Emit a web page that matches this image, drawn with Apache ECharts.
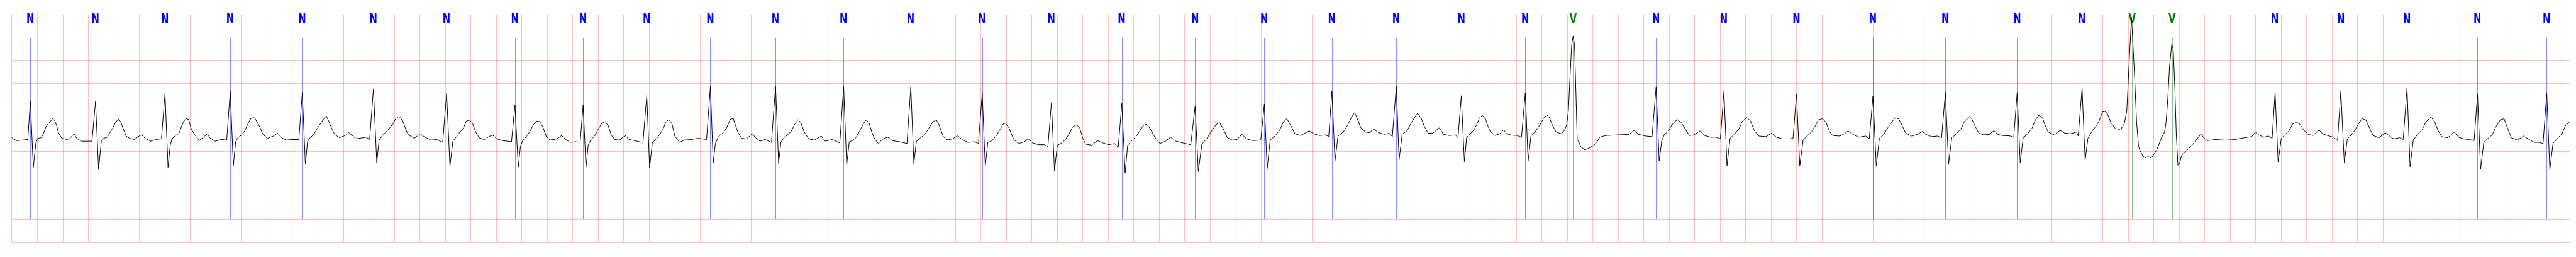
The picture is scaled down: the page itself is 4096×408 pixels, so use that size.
<!DOCTYPE html>
<html>
<head>
<meta charset="utf-8">
<script src="https://cdn.jsdelivr.net/npm/echarts@6/dist/echarts.min.js"></script>
<style>
html,body{margin:0;padding:0;background:#fff;}
#chart{width:4096px;height:408px;}
</style>
</head>
<body>
<div id="chart"></div>
<script>
// ---- x axis (seconds) and y axis (mV) ----
const X_MIN = 0, X_MAX = 20.064, X_STEP = 0.2;
const Y_MIN = -2.5, Y_MAX = 2.5, Y_STEP = 0.5;
const ANN_TOP = 2.0, ANN_BOTTOM = -2.0, ANN_LABEL_Y = 2.39;

// ---- beat annotations ----
const annTimes = [0.146,0.656,1.201,1.713,2.278,2.836,3.410,3.946,4.481,4.980,5.479,5.990,6.524,7.051,7.611,8.154,8.706,9.281,9.824,10.355,10.859,11.370,11.871,12.247,12.897,13.429,13.999,14.598,15.166,15.730,16.238,16.632,16.945,17.752,18.269,18.787,19.340,19.883];
const annLabels = ['N','N','N','N','N','N','N','N','N','N','N','N','N','N','N','N','N','N','N','N','N','N','N','V','N','N','N','N','N','N','N','V','V','N','N','N','N','N'];

// ---- ECG trace [seconds, mV] ----
const ecgPart1 = [
[0.000,-0.204],[0.037,-0.267],[0.084,-0.255],[0.126,-0.242],[0.146,0.605],[0.169,-0.855],[0.189,-0.318],[0.204,-0.217],[0.232,-0.204],[0.250,-0.103],[0.268,0.035],[0.287,0.111],[0.305,0.161],[0.318,0.217],[0.337,0.174],[0.352,0.061],[0.366,-0.091],[0.392,-0.217],[0.416,-0.229],[0.444,-0.255],[0.472,-0.166],[0.490,-0.116],[0.509,-0.217],[0.546,-0.280],[0.592,-0.280],[0.629,-0.280],
[0.657,0.595],[0.681,-0.903],[0.703,-0.267],[0.721,-0.217],[0.749,-0.192],[0.768,-0.103],[0.792,0.010],[0.814,0.136],[0.838,0.207],[0.854,0.149],[0.869,0.035],[0.897,-0.166],[0.925,-0.217],[0.962,-0.242],[0.999,-0.166],[1.019,-0.141],[1.045,-0.217],[1.091,-0.280],[1.128,-0.242],[1.174,-0.229],
[1.202,0.767],[1.226,-0.855],[1.243,-0.368],[1.257,-0.229],[1.285,-0.154],[1.313,-0.103],[1.335,0.073],[1.350,0.161],[1.368,0.217],[1.387,0.199],[1.409,-0.015],[1.433,-0.129],[1.470,-0.267],[1.498,-0.204],[1.535,-0.116],[1.553,-0.204],[1.594,-0.280],[1.645,-0.242],[1.686,-0.255],
[1.714,0.830],[1.738,-0.817],[1.756,-0.292],[1.775,-0.204],[1.803,-0.141],[1.830,-0.040],[1.849,0.086],[1.876,0.224],[1.904,0.237],[1.926,0.136],[1.950,0.010],[1.969,-0.129],[2.006,-0.217],[2.052,-0.166],[2.085,-0.103],[2.117,-0.204],[2.154,-0.255],[2.200,-0.242],[2.252,-0.242],
[2.279,0.800],[2.303,-0.792],[2.320,-0.292],[2.339,-0.204],[2.366,-0.141],[2.394,-0.015],[2.422,0.111],[2.444,0.199],[2.468,0.275],[2.486,0.161],[2.514,-0.028],[2.533,-0.129],[2.570,-0.204],[2.616,-0.154],[2.644,-0.091],[2.671,-0.154],[2.699,-0.229],[2.754,-0.204],[2.779,-0.192],[2.807,-0.242]
];
const ecgPart2 = [
[2.837,0.875],[2.863,-0.754],[2.881,-0.267],[2.899,-0.179],[2.936,-0.078],[2.964,0.010],[2.992,0.111],[3.010,0.212],[3.038,0.267],[3.066,0.174],[3.090,-0.015],[3.112,-0.141],[3.158,-0.217],[3.204,-0.116],[3.241,-0.192],[3.288,-0.255],[3.334,-0.242],[3.380,-0.305],
[3.411,0.772],[3.437,-0.830],[3.460,-0.280],[3.482,-0.204],[3.519,-0.066],[3.541,-0.002],[3.565,0.161],[3.593,0.187],[3.615,0.111],[3.639,-0.078],[3.667,-0.204],[3.713,-0.255],[3.740,-0.179],[3.772,-0.146],[3.805,-0.229],[3.851,-0.267],[3.888,-0.280],[3.920,-0.292],
[3.947,0.519],[3.973,-0.847],[3.990,-0.393],[4.008,-0.267],[4.036,-0.179],[4.064,-0.066],[4.092,0.086],[4.119,0.161],[4.143,0.149],[4.169,0.010],[4.193,-0.179],[4.221,-0.255],[4.276,-0.229],[4.313,-0.154],[4.341,-0.229],[4.378,-0.305],[4.424,-0.292],[4.458,-0.305],
[4.482,0.519],[4.504,-0.855],[4.522,-0.356],[4.544,-0.242],[4.572,-0.166],[4.600,-0.015],[4.628,0.111],[4.655,0.149],[4.679,0.061],[4.702,-0.141],[4.729,-0.242],[4.766,-0.255],[4.812,-0.154],[4.840,-0.242],[4.886,-0.267],[4.923,-0.292],[4.951,-0.305],
[4.981,0.734],[5.003,-0.860],[5.025,-0.305],[5.053,-0.242],[5.080,-0.141],[5.108,-0.015],[5.130,0.136],[5.154,0.199],[5.178,0.111],[5.201,-0.166],[5.238,-0.305],[5.275,-0.255],[5.330,-0.242],[5.385,-0.217],[5.450,-0.242],
[5.480,0.935],[5.502,-0.754],[5.519,-0.330],[5.543,-0.179],[5.580,-0.091],[5.607,0.010],[5.635,0.199],[5.659,0.224]
];
const ecgPart3 = [
[5.678,0.061],[5.697,-0.091],[5.725,-0.217],[5.762,-0.229],[5.808,-0.116],[5.835,-0.204],[5.869,-0.280],[5.909,-0.242],[5.959,-0.305],
[5.991,0.933],[6.015,-0.767],[6.033,-0.305],[6.057,-0.204],[6.085,-0.141],[6.113,-0.066],[6.140,0.086],[6.168,0.197],[6.190,0.124],[6.214,-0.066],[6.251,-0.229],[6.298,-0.255],[6.349,-0.166],[6.381,-0.280],[6.436,-0.242],[6.495,-0.318],
[6.525,0.925],[6.549,-0.802],[6.569,-0.292],[6.593,-0.267],[6.621,-0.204],[6.649,-0.066],[6.676,0.086],[6.700,0.187],[6.723,0.136],[6.750,-0.116],[6.769,-0.229],[6.797,-0.330],[6.834,-0.229],[6.871,-0.192],[6.907,-0.267],[6.963,-0.292],[7.022,-0.330],
[7.052,0.918],[7.076,-0.772],[7.096,-0.280],[7.129,-0.204],[7.166,-0.116],[7.194,0.010],[7.222,0.136],[7.251,0.192],[7.273,0.086],[7.305,-0.166],[7.333,-0.255],[7.379,-0.229],[7.421,-0.161],[7.453,-0.242],[7.499,-0.305],[7.554,-0.292],[7.582,-0.343],
[7.612,0.772],[7.636,-0.830],[7.656,-0.305],[7.684,-0.280],[7.721,-0.166],[7.748,-0.040],[7.776,0.098],[7.795,0.116],[7.822,0.010],[7.859,-0.242],[7.896,-0.330],[7.943,-0.292],[7.972,-0.222],[8.007,-0.318],[8.053,-0.356],[8.100,-0.356],[8.127,-0.406],
[8.155,0.570],[8.179,-0.935],[8.201,-0.368],[8.229,-0.330],[8.266,-0.242],[8.294,-0.116],[8.321,0.035],[8.353,0.081],[8.377,0.010],[8.401,-0.217],[8.423,-0.343],[8.469,-0.368],[8.516,-0.267]
];
const ecgPart4 = [
[8.559,-0.318],[8.605,-0.356],[8.651,-0.330],[8.679,-0.419],
[8.707,0.552],[8.733,-0.978],[8.753,-0.368],[8.781,-0.280],[8.818,-0.179],[8.855,-0.028],[8.873,0.061],[8.901,0.098],[8.929,-0.002],[8.966,-0.192],[9.006,-0.330],[9.049,-0.280],[9.089,-0.192],[9.132,-0.280],[9.187,-0.318],[9.248,-0.356],
[9.282,0.494],[9.307,-0.948],[9.335,-0.343],[9.372,-0.229],[9.409,-0.066],[9.446,0.086],[9.474,0.131],[9.502,-0.002],[9.535,-0.204],[9.575,-0.255],[9.612,-0.242],[9.649,-0.129],[9.686,-0.229],[9.733,-0.267],[9.797,-0.255],
[9.825,0.540],[9.847,-0.885],[9.871,-0.255],[9.908,-0.166],[9.945,-0.040],[9.973,0.136],[10.001,0.217],[10.028,0.086],[10.065,-0.116],[10.111,-0.154],[10.176,-0.053],[10.213,-0.116],[10.259,-0.154],[10.306,-0.141],[10.330,-0.179],
[10.355,0.830],[10.379,-0.716],[10.403,-0.166],[10.444,-0.078],[10.481,0.086],[10.509,0.250],[10.533,0.350],[10.555,0.212],[10.583,0.010],[10.620,-0.078],[10.647,-0.091],[10.684,-0.015],[10.721,-0.091],[10.768,-0.129],[10.805,-0.103],[10.829,-0.179],
[10.860,0.930],[10.882,-0.691],[10.906,-0.129],[10.943,-0.053],[10.980,0.136],[11.008,0.262],[11.026,0.333],[11.054,0.237],[11.082,0.035],[11.110,-0.103],[11.147,-0.103],[11.198,0.015],[11.230,-0.129],[11.276,-0.154],[11.322,-0.141],[11.344,-0.204],
[11.370,0.724],[11.394,-0.729]
];
const ecgPart5 = [
[11.412,-0.192],[11.440,-0.116],[11.467,-0.040],[11.495,0.111],[11.513,0.237],[11.536,0.287],[11.560,0.212],[11.578,0.061],[11.597,-0.066],[11.634,-0.154],[11.671,-0.116],[11.702,-0.028],[11.726,-0.116],[11.763,-0.146],[11.809,-0.154],[11.842,-0.192],
[11.872,0.792],[11.894,-0.716],[11.916,-0.166],[11.948,-0.078],[11.985,0.073],[12.013,0.212],[12.040,0.300],[12.062,0.237],[12.086,0.061],[12.114,-0.078],[12.155,-0.116],[12.179,-0.040],[12.197,0.086],[12.210,0.388],[12.225,1.270],[12.236,1.850],
[12.247,2.040],[12.258,1.850],[12.268,0.893],[12.279,-0.242],[12.293,-0.305],[12.308,-0.406],[12.340,-0.469],[12.373,-0.431],[12.410,-0.368],[12.438,-0.280],[12.456,-0.192],[12.502,-0.154],[12.595,-0.141],[12.687,-0.129],[12.724,-0.040],[12.761,-0.129],[12.817,-0.166],[12.866,-0.179],
[12.898,0.918],[12.922,-0.716],[12.942,-0.267],[12.964,-0.129],[12.992,-0.066],[13.020,0.073],[13.048,0.161],[13.066,0.192],[13.094,0.136],[13.122,0.010],[13.158,-0.154],[13.195,-0.141],[13.242,-0.053],[13.279,-0.154],[13.325,-0.192],[13.371,-0.192],[13.402,-0.229],
[13.430,0.817],[13.454,-0.817],[13.478,-0.217],[13.510,-0.129],[13.547,-0.015],[13.574,0.161],[13.611,0.242],[13.639,0.161],[13.667,-0.040],[13.704,-0.166],[13.759,-0.179],[13.805,-0.103],[13.842,-0.192],[13.889,-0.229],[13.944,-0.229],[13.972,-0.217],
[13.999,0.754],[14.025,-0.817],[14.051,-0.255],[14.083,-0.166],[14.120,-0.066],[14.147,0.061],[14.170,0.187],[14.203,0.217],[14.231,0.136],[14.258,-0.066]
];
const ecgPart6 = [
[14.283,-0.154],[14.339,-0.166],[14.376,-0.116],[14.403,-0.053],[14.440,-0.129],[14.486,-0.192],[14.542,-0.166],[14.570,-0.229],
[14.599,0.711],[14.625,-0.830],[14.649,-0.217],[14.681,-0.141],[14.717,0.023],[14.745,0.136],[14.773,0.237],[14.801,0.212],[14.828,0.061],[14.856,-0.103],[14.902,-0.166],[14.949,-0.129],[14.985,-0.066],[15.013,-0.129],[15.059,-0.179],[15.106,-0.166],[15.137,-0.204],
[15.167,0.797],[15.192,-0.784],[15.217,-0.204],[15.244,-0.141],[15.290,-0.002],[15.318,0.161],[15.355,0.262],[15.374,0.212],[15.396,0.073],[15.429,-0.103],[15.466,-0.141],[15.512,-0.129],[15.549,-0.045],[15.577,-0.129],[15.614,-0.154],[15.669,-0.161],[15.703,-0.192],
[15.730,0.792],[15.754,-0.751],[15.777,-0.204],[15.808,-0.129],[15.845,-0.002],[15.873,0.187],[15.900,0.292],[15.928,0.237],[15.947,0.086],[15.974,-0.078],[16.021,-0.141],[16.067,-0.040],[16.104,-0.103],[16.150,-0.116],[16.196,-0.078],[16.209,-0.166],
[16.239,0.893],[16.263,-0.703],[16.285,-0.217],[16.316,-0.066],[16.344,0.035],[16.372,0.161],[16.399,0.363],[16.418,0.376],[16.436,0.338],[16.464,0.136],[16.483,0.061],[16.510,-0.040],[16.547,-0.002],[16.571,0.111],[16.590,0.388],[16.605,1.270],
[16.627,2.450],[16.649,1.270],[16.667,0.136],[16.682,-0.393],[16.695,-0.494],[16.714,-0.595],[16.732,-0.645],[16.760,-0.621],[16.782,-0.645],[16.806,-0.557],[16.825,-0.469],[16.843,-0.343],[16.862,-0.204],[16.886,-0.078],[16.898,0.136],[16.911,0.640],[16.926,1.400],
[16.943,1.860],[16.954,1.750],[16.967,0.893],[16.978,-0.116],[16.991,-0.809],[17.004,-0.772],[17.019,-0.595],[17.037,-0.545],[17.065,-0.469],[17.093,-0.393],[17.130,-0.267]
];
const ecgPart7 = [
[17.174,-0.116],[17.193,-0.204],[17.221,-0.267],[17.287,-0.242],[17.362,-0.229],[17.438,-0.242],[17.513,-0.204],[17.570,-0.179],[17.598,-0.078],[17.626,-0.141],[17.664,-0.192],[17.702,-0.166],[17.730,-0.217],
[17.753,0.800],[17.777,-0.734],[17.802,-0.217],[17.834,-0.129],[17.862,-0.053],[17.890,0.098],[17.919,0.136],[17.947,0.098],[17.975,-0.028],[18.013,-0.129],[18.051,-0.154],[18.098,-0.035],[18.126,-0.116],[18.164,-0.154],[18.211,-0.192],[18.243,-0.267],
[18.269,0.817],[18.296,-0.751],[18.320,-0.229],[18.352,-0.141],[18.381,-0.028],[18.409,0.111],[18.437,0.219],[18.465,0.187],[18.494,0.010],[18.522,-0.154],[18.569,-0.204],[18.616,-0.091],[18.645,-0.154],[18.682,-0.229],[18.730,-0.204],[18.758,-0.242],
[18.788,0.893],[18.812,-0.842],[18.837,-0.255],[18.871,-0.129],[18.909,-0.015],[18.937,0.149],[18.975,0.250],[19.003,0.161],[19.031,-0.040],[19.060,-0.179],[19.107,-0.204],[19.158,-0.078],[19.192,-0.192],[19.229,-0.229],[19.276,-0.242],[19.314,-0.267],
[19.341,0.761],[19.365,-0.898],[19.390,-0.305],[19.418,-0.229],[19.456,-0.141],[19.484,0.035],[19.522,0.199],[19.550,0.212],[19.569,0.061],[19.606,-0.204],[19.654,-0.255],[19.701,-0.166],[19.738,-0.229],[19.786,-0.305],[19.823,-0.305],[19.855,-0.330],
[19.884,0.780],[19.908,-0.910],[19.933,-0.330],[19.965,-0.229],[20.003,-0.116],[20.031,0.061],[20.059,0.136]
];

const ecgPoints = [].concat(ecgPart1, ecgPart2, ecgPart3, ecgPart4, ecgPart5, ecgPart6, ecgPart7);

const annColors = {N: 'rgba(0,0,255,0.65)', V: 'rgba(0,128,0,0.65)'};
const labelColors = {N: '#0000ff', V: '#008000'};

const chart = echarts.init(document.getElementById('chart'), null, {renderer: 'canvas'});
const gridLine = {show: true, showMinLine: true, showMaxLine: false, lineStyle: {color: 'rgba(255,0,0,0.25)', width: 1.1}};

chart.setOption({
  animation: false,
  backgroundColor: '#ffffff',
  grid: {left: 18.7, right: 10, top: 23.9, bottom: 23.9, containLabel: false},
  xAxis: {
    type: 'value', min: X_MIN, max: X_MAX, interval: X_STEP,
    axisLine: {show: false}, axisTick: {show: false}, axisLabel: {show: false},
    splitLine: gridLine
  },
  yAxis: {
    type: 'value', min: Y_MIN, max: Y_MAX, interval: Y_STEP,
    axisLine: {show: false}, axisTick: {show: false}, axisLabel: {show: false},
    splitLine: gridLine
  },
  series: [
    {
      type: 'custom',
      z: 2,
      data: annTimes.map((t, i) => [t, i]),
      renderItem: function (params, api) {
        const t = api.value(0);
        const lab = annLabels[api.value(1)];
        const p1 = api.coord([t, ANN_TOP]);
        const p2 = api.coord([t, ANN_BOTTOM]);
        const pl = api.coord([t, ANN_LABEL_Y]);
        return {
          type: 'group',
          children: [
            {type: 'line', shape: {x1: Math.round(p1[0]) + 0.5, y1: p1[1], x2: Math.round(p2[0]) + 0.5, y2: p2[1]},
             style: {stroke: annColors[lab], lineWidth: 0.7}},
            {type: 'text', x: pl[0], y: pl[1], scaleX: 0.72,
             style: {text: lab, fill: labelColors[lab], fontFamily: 'DejaVu Sans', fontWeight: 'bold', fontSize: 20.6,
                     align: 'center', verticalAlign: 'middle'}}
          ]
        };
      }
    },
    {
      type: 'line',
      z: 3,
      data: ecgPoints,
      symbol: 'none',
      smooth: false,
      lineStyle: {color: '#000000', width: 1},
      silent: true
    }
  ]
});
</script>
</body>
</html>
